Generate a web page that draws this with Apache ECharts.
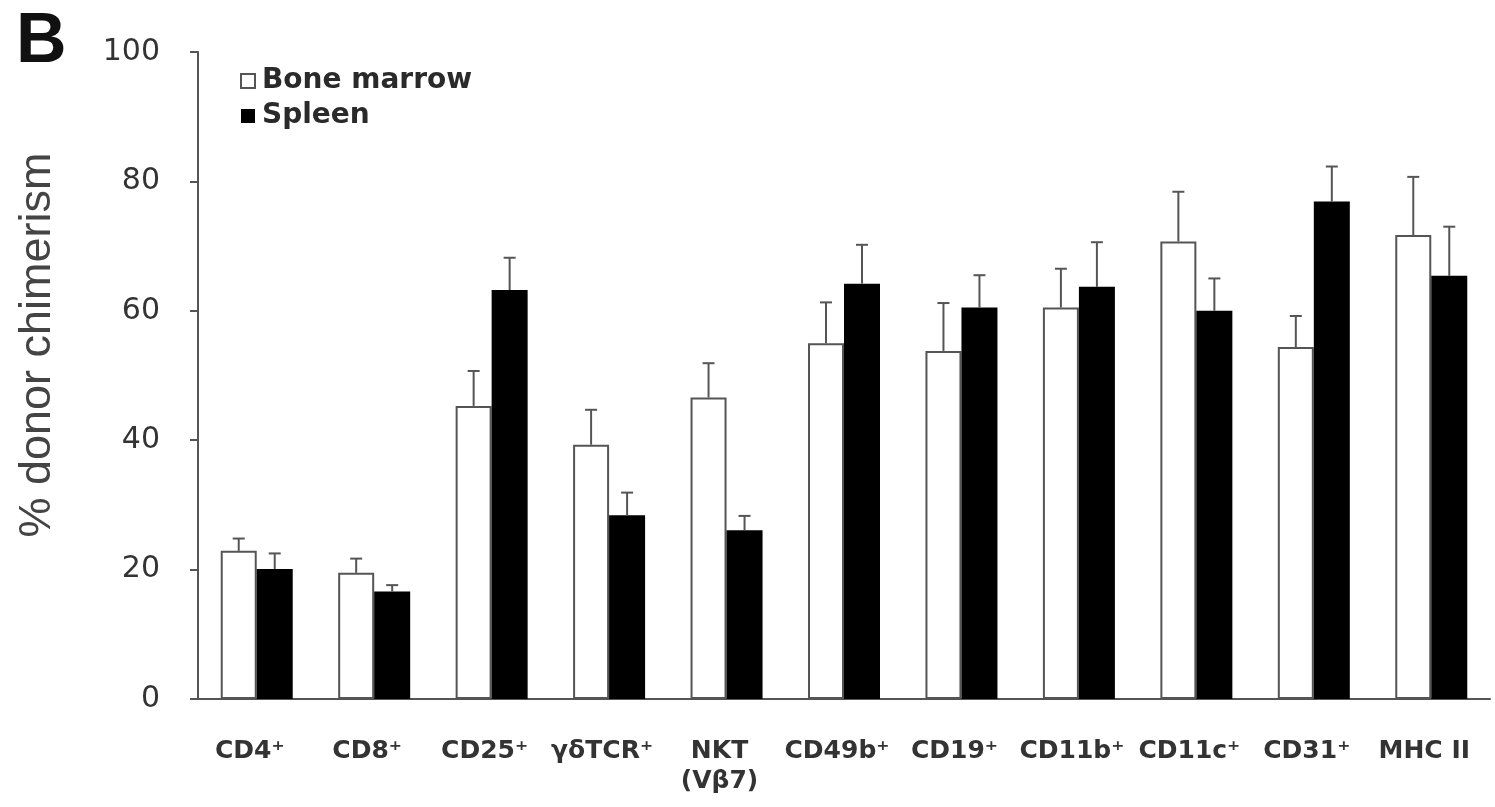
<!DOCTYPE html>
<html>
<head>
<meta charset="utf-8">
<script src="https://cdn.jsdelivr.net/npm/echarts@6/dist/echarts.min.js"></script>
<style>
html,body{margin:0;padding:0;background:#fff;}
#chart{width:1495px;height:807px;}
</style>
</head>
<body>
<div id="chart"></div>
<script>
const categories = ['CD4\u207A','CD8\u207A','CD25\u207A','\u03B3\u03B4TCR\u207A','NKT\n(V\u03B27)','CD49b\u207A','CD19\u207A','CD11b\u207A','CD11c\u207A','CD31\u207A','MHC II'];
const boneMarrow    = [22.9, 19.5, 45.3, 39.3, 46.6, 55.0, 53.8, 60.5, 70.7, 54.4, 71.7];
const boneMarrowErr = [1.9, 2.2, 5.4, 5.4, 5.3, 6.3, 7.4, 6.0, 7.7, 4.8, 9.0];
const spleen        = [20.1, 16.6, 63.2, 28.4, 26.1, 64.2, 60.5, 63.7, 60.0, 76.9, 65.4];
const spleenErr     = [2.4, 1.0, 5.0, 3.5, 2.2, 6.0, 5.0, 6.9, 5.0, 5.4, 7.6];
const yTicks = [0, 20, 40, 60, 80, 100];

const GAP = 0.387;
const SANS = '"Liberation Sans", Arial, sans-serif';
const DJV = '"DejaVu Sans", sans-serif';

function errData(vals, errs) {
  return vals.map((v, i) => [i, v, v + errs[i]]);
}
function errRender(side) {
  return function (params, api) {
    const idx = api.value(0);
    const top = api.coord([idx, api.value(2)]);
    const base = api.coord([idx, api.value(1)]);
    const cw = api.size([1, 0])[0];
    const bw = cw * (1 - GAP) / 2;
    const x = top[0] + side * bw / 2;
    const cap = 6;
    return {
      type: 'group',
      children: [
        { type: 'line', shape: { x1: x, y1: base[1], x2: x, y2: top[1] }, style: { stroke: '#555', lineWidth: 2 } },
        { type: 'line', shape: { x1: x - cap, y1: top[1], x2: x + cap, y2: top[1] }, style: { stroke: '#555', lineWidth: 2 } }
      ]
    };
  };
}

const chart = echarts.init(document.getElementById('chart'), null, { renderer: 'canvas' });
chart.setOption({
  animation: false,
  backgroundColor: '#fff',
  grid: { left: 198, right: 5, top: 52, bottom: 108, containLabel: false },
  graphic: [
    { type: 'text', left: 16, top: 8, style: { text: 'B', font: 'bold 70px ' + SANS, fill: '#111' } },
    { type: 'text', x: 38, y: 345, rotation: Math.PI / 2,
      style: { text: '% donor chimerism', font: '45px ' + SANS, fill: '#444', align: 'center', verticalAlign: 'middle' } }
  ],
  legend: {
    data: ['Bone marrow', 'Spleen'],
    orient: 'vertical',
    left: 235, top: 62,
    icon: 'rect',
    itemWidth: 14, itemHeight: 14,
    itemGap: 7,
    textStyle: { fontSize: 28, fontWeight: 'bold', color: '#2a2a2a', fontFamily: DJV, lineHeight: 28, padding: [0, 0, 0, 2] }
  },
  xAxis: {
    type: 'category',
    data: categories,
    axisLine: { lineStyle: { color: '#555', width: 2 } },
    axisTick: { show: false },
    axisLabel: { interval: 0, margin: 37, fontSize: 25, fontWeight: 'bold', color: '#333', lineHeight: 30, fontFamily: DJV, padding: [0, 14, 0, 0] }
  },
  yAxis: {
    type: 'value',
    min: yTicks[0], max: yTicks[yTicks.length - 1], interval: 20,
    splitLine: { show: false },
    axisLine: { show: true, lineStyle: { color: '#555', width: 2 } },
    axisTick: { show: true, length: 8, lineStyle: { color: '#555', width: 2 } },
    axisLabel: { margin: 38, fontSize: 30, color: '#333', fontFamily: DJV }
  },
  series: [
    { name: 'Bone marrow', type: 'bar', data: boneMarrow, barGap: '0%', barCategoryGap: (GAP * 100) + '%',
      itemStyle: { color: '#fff', borderColor: '#555', borderWidth: 2 } },
    { name: 'Spleen', type: 'bar', data: spleen, barGap: '0%', barCategoryGap: (GAP * 100) + '%',
      itemStyle: { color: '#000', borderColor: '#000', borderWidth: 0 } },
    { type: 'custom', name: 'bmErr', data: errData(boneMarrow, boneMarrowErr), renderItem: errRender(-1), z: 5, encode: { x: 0, y: [1, 2] } },
    { type: 'custom', name: 'spErr', data: errData(spleen, spleenErr), renderItem: errRender(1), z: 5, encode: { x: 0, y: [1, 2] } }
  ]
});
</script>
</body>
</html>
